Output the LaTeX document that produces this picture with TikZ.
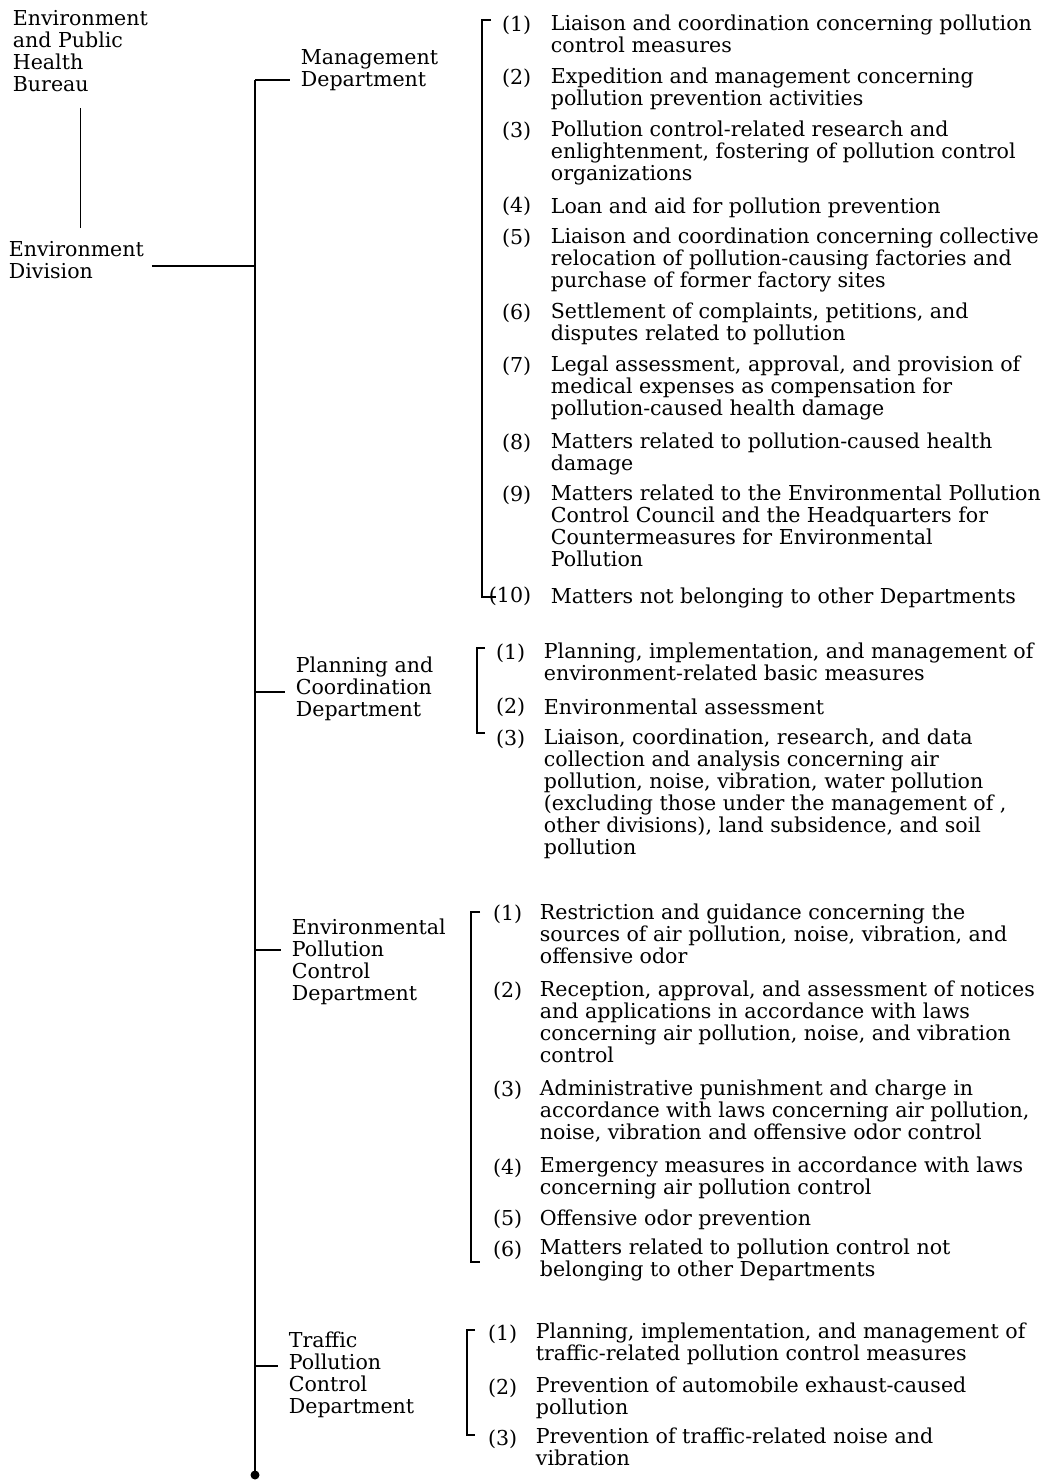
\documentclass[tikz,border=0pt]{standalone}
\usepackage{fontspec}
\setmainfont{DejaVu Serif}
\usepackage{tikz}
\usetikzlibrary{calc}
\tikzstyle{txt}=[anchor=north west,yshift=8.3pt,inner sep=0,align=left,execute at begin node=\rule{0pt}{10pt}]
\tikzstyle{num}=[anchor=base east,yshift=-1.7pt,inner sep=0]
\tikzstyle{branch}=[shorten >=5.5pt]
\tikzstyle{brk}=[line width=0.8pt]

\begin{document}
\begin{tikzpicture}[x=0.02cm,y=-0.02cm,line width=1pt,font=\fontsize{11.7}{12.5}\selectfont]
\useasboundingbox (0,0) rectangle (1057,1480);

\node[txt] (bureau) at (12,24) {Environment\\and Public\\Health\\Bureau};
\node[txt] (division) at (8,255) {Environment\\Division};
\draw[shorten <=9pt,shorten >=7pt] (bureau.south) -- (bureau.south |- division.north);

\coordinate (mgmtjoin) at (255,80);
\coordinate (divjoin) at (255,266);
\coordinate (planjoin) at (255,692);
\coordinate (envjoin) at (255,950);
\coordinate (trafjoin) at (255,1366);
\coordinate (trunkend) at (255,1475);
\draw[shorten <=4pt] (divjoin -| division.east) -- (divjoin);
\draw (mgmtjoin) -- (trunkend);
\fill (trunkend) circle (4.5);

\node[txt] (mgmt) at (300,63) {Management\\Department};
\node[txt] (plan) at (295,671) {Planning and\\Coordination\\Department};
\node[txt] (env) at (291,933) {Environmental\\Pollution\\Control\\Department};
\node[txt] (traf) at (288,1346) {Traffic\\Pollution\\Control\\Department};
\draw[branch] (mgmtjoin) -- (mgmtjoin -| mgmt.west);
\draw[branch] (planjoin) -- (planjoin -| plan.west);
\draw[branch] (envjoin) -- (envjoin -| env.west);
\draw[branch] (trafjoin) -- (trafjoin -| traf.west);

\draw[brk] (491,20) -- (482,20) -- (482,597) -- (496,597);
\node[num] (m1n) at (532,29) {(1)};
\node[txt] (m1) at (550,29) {Liaison and coordination concerning pollution\\control measures};
\node[num] (m2n) at (532,82) {(2)};
\node[txt] (m2) at (550,82) {Expedition and management concerning\\pollution prevention activities};
\node[num] (m3n) at (532,135) {(3)};
\node[txt] (m3) at (550,135) {Pollution control-related research and\\enlightenment, fostering of pollution control\\organizations};
\node[num] (m4n) at (532,210) {(4)};
\node[txt] (m4) at (550,210) {Loan and aid for pollution prevention};
\node[num] (m5n) at (532,242) {(5)};
\node[txt] (m5) at (550,242) {Liaison and coordination concerning collective\\relocation of pollution-causing factories and\\purchase of former factory sites};
\node[num] (m6n) at (532,317) {(6)};
\node[txt] (m6) at (550,317) {Settlement of complaints, petitions, and\\disputes related to pollution};
\node[num] (m7n) at (532,370) {(7)};
\node[txt] (m7) at (550,370) {Legal assessment, approval, and provision of\\medical expenses as compensation for\\pollution-caused health damage};
\node[num] (m8n) at (532,447) {(8)};
\node[txt] (m8) at (550,447) {Matters related to pollution-caused health\\damage};
\node[num] (m9n) at (532,499) {(9)};
\node[txt] (m9) at (550,499) {Matters related to the Environmental Pollution\\Control Council and the Headquarters for\\Countermeasures for Environmental\\Pollution};
\node[num] (m10n) at (532,600) {(10)};
\node[txt] (m10) at (550,600) {Matters not belonging to other Departments};

\draw[brk] (485,648) -- (477,648) -- (477,733) -- (485,733);
\node[num] (p1n) at (526,657) {(1)};
\node[txt] (p1) at (543,657) {Planning, implementation, and management of\\environment-related basic measures};
\node[num] (p2n) at (526,711) {(2)};
\node[txt] (p2) at (543,711) {Environmental assessment};
\node[num] (p3n) at (526,743) {(3)};
\node[txt] (p3) at (543,743) {Liaison, coordination, research, and data\\collection and analysis concerning air\\pollution, noise, vibration, water pollution\\(excluding those under the management of ,\\other divisions), land subsidence, and soil\\pollution};

\draw[brk] (480,912) -- (471,912) -- (471,1262) -- (480,1262);
\node[num] (e1n) at (523,918) {(1)};
\node[txt] (e1) at (539,918) {Restriction and guidance concerning the\\sources of air pollution, noise, vibration, and\\offensive odor};
\node[num] (e2n) at (523,995) {(2)};
\node[txt] (e2) at (539,995) {Reception, approval, and assessment of notices\\and applications in accordance with laws\\concerning air pollution, noise, and vibration\\control};
\node[num] (e3n) at (523,1094) {(3)};
\node[txt] (e3) at (539,1094) {Administrative punishment and charge in\\accordance with laws concerning air pollution,\\noise, vibration and offensive odor control};
\node[num] (e4n) at (523,1171) {(4)};
\node[txt] (e4) at (539,1171) {Emergency measures in accordance with laws\\concerning air pollution control};
\node[num] (e5n) at (523,1222) {(5)};
\node[txt] (e5) at (539,1222) {Offensive odor prevention};
\node[num] (e6n) at (523,1253) {(6)};
\node[txt] (e6) at (539,1253) {Matters related to pollution control not\\belonging to other Departments};

\draw[brk] (475,1330) -- (467,1330) -- (467,1435) -- (475,1435);
\node[num] (t1n) at (518,1337) {(1)};
\node[txt] (t1) at (535,1337) {Planning, implementation, and management of\\traffic-related pollution control measures};
\node[num] (t2n) at (518,1391) {(2)};
\node[txt] (t2) at (535,1391) {Prevention of automobile exhaust-caused\\pollution};
\node[num] (t3n) at (518,1442) {(3)};
\node[txt] (t3) at (535,1442) {Prevention of traffic-related noise and\\vibration};
\end{tikzpicture}
\end{document}
